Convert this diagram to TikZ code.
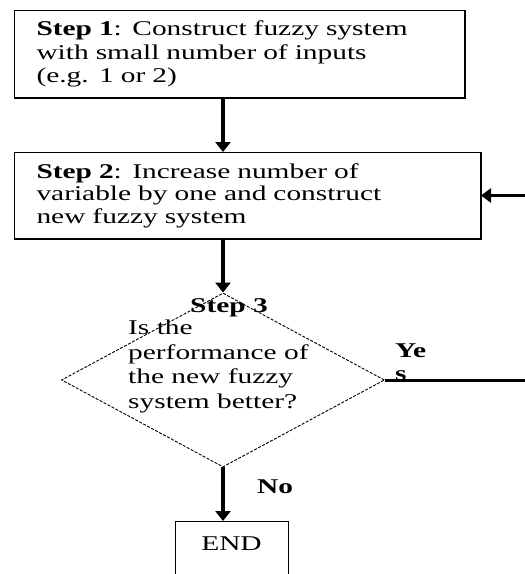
\documentclass[tikz,border=0pt]{standalone}
\usepackage{fontspec}
\setmainfont{Liberation Serif}[FakeStretch=1.40]
\usetikzlibrary{arrows.meta,shapes.geometric}
\newcommand{\reffont}{\fontsize{21}{23.5}\selectfont}
\tikzset{
  txt/.style={font=\reffont, inner sep=0pt, align=left},
  stepbox/.style={draw, line width=1pt, anchor=north west, align=left,
    font=\reffont, inner xsep=22pt},
  thickedge/.style={line width=2.6pt},
  flow/.style={line width=3.5pt, -{Triangle[length=10pt,width=15pt]}},
  plainflow/.style={line width=3pt},
  decision/.style={diamond, draw, line width=0.9pt, dash pattern=on 3pt off 1.5pt,
    inner sep=0pt, minimum width=323pt, minimum height=174pt}
}
\begin{document}
\begin{tikzpicture}[x=1pt,y=-1pt]
\useasboundingbox (0,0) rectangle (525,574);
\clip (0,0) rectangle (525,574);
% boxes
\node[stepbox, text width=406pt, minimum height=87pt] (b1) at (14,10)
  {\textbf{Step 1}: Construct fuzzy system\\with small number of inputs\\(e.g. 1 or 2)};
\draw[thickedge] (b1.north east) -- (b1.south east) -- (b1.south west);
\node[stepbox, text width=422pt, minimum height=86pt,
  font=\fontsize{21}{22.5}\selectfont] (b2) at (14,152)
  {\textbf{Step 2}: Increase number of\\variable by one and construct\\new fuzzy system};
\draw[thickedge] (b2.north east) -- (b2.south east) -- (b2.south west);
% decision
\node[decision] (d) at (223,380) {};
\node[txt, anchor=base] (s3) at (229,312) {\textbf{Step 3}};
\node[txt, anchor=north west, font=\fontsize{21}{24.5}\selectfont] (q) at (128,320)
  {Is the\\performance of\\the new fuzzy\\system better?};
% end
\node[draw, line width=1pt, anchor=north, minimum width=113pt,
  font=\reffont, inner ysep=15pt, text height=14pt, text depth=40pt] (e) at (231.5,521) {END};
% connectors
\draw[flow] (b1.south -| d.north) -- (b2.north -| d.north);
\draw[flow] (b2.south -| d.north) -- (d.north);
\draw[flow] (d.south) -- (d.south |- e.north);
\coordinate (loop) at (545,0);
\draw[plainflow, -{Triangle[length=10pt,width=14pt]}] (d.east) -- (d.east -| loop) -- (b2.east -| loop) -- (b2.east);
% labels
\node[txt, anchor=base west] (yes) at (395,380) {\textbf{Ye}\\[-0.5pt]\textbf{s}};
\node[txt, anchor=base west] (no) at (257,493) {\textbf{No}};
\end{tikzpicture}
\end{document}
